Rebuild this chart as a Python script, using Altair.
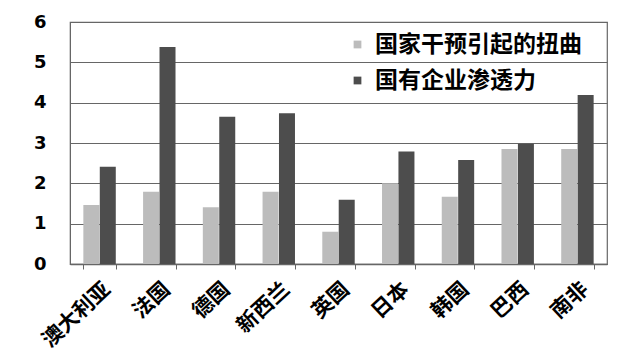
import altair as alt
import pandas as pd

countries = ["澳大利亚", "法国", "德国", "新西兰", "英国", "日本", "韩国", "巴西", "南非"]
series_names = ["国家干预引起的扭曲", "国有企业渗透力"]
distortion = [1.46, 1.79, 1.41, 1.79, 0.80, 2.00, 1.67, 2.85, 2.85]
penetration = [2.41, 5.38, 3.65, 3.74, 1.59, 2.79, 2.58, 2.98, 4.19]

rows = []
for c, a, b in zip(countries, distortion, penetration):
    rows.append({"country": c, "series": series_names[0], "value": a})
    rows.append({"country": c, "series": series_names[1], "value": b})
df = pd.DataFrame(rows)

cjk = "Noto Sans CJK SC"

bars = alt.Chart(df).mark_bar(size=16).encode(
    x=alt.X("country:N", sort=countries, title=None,
            scale=alt.Scale(paddingInner=0.45, paddingOuter=0.22),
            axis=alt.Axis(labelAngle=-43, labelFont=cjk, labelFontWeight="bold",
                          labelFontSize=21, labelColor="#000", labelPadding=9,
                          labelLimit=0,
                          tickBand="extent", tickSize=5, tickColor="#666",
                          domainColor="#666", domainWidth=1.5, grid=False)),
    xOffset=alt.XOffset("series:N", sort=series_names),
    y=alt.Y("value:Q", title=None,
            scale=alt.Scale(domain=[0, 6], nice=False),
            axis=alt.Axis(values=[0, 1, 2, 3, 4, 5, 6], labelFont="DejaVu Sans",
                          labelFontWeight="bold", labelFontSize=18, labelColor="#000",
                          labelPadding=24, ticks=False, domainColor="#666",
                          gridColor="#666", gridWidth=1.2)),
    color=alt.Color("series:N", sort=series_names,
                    scale=alt.Scale(domain=series_names, range=["#bcbcbc", "#4d4d4d"]),
                    legend=alt.Legend(title=None, orient="none", legendX=276, legendY=11,
                                      symbolType="square", symbolSize=60,
                                      labelFont=cjk, labelFontWeight="bold",
                                      labelFontSize=23, labelColor="#000", labelLimit=0,
                                      rowPadding=12, labelOffset=6)),
)

chart = bars.properties(
    width=537, height=242,
    autosize=alt.AutoSizeParams(type="none"),
    padding={"left": 70, "top": 22, "right": 17, "bottom": 92},
    background="white",
).configure_view(stroke="#666", strokeWidth=1.2)

chart.save("out.html", embed_options={"renderer": "svg", "actions": False})
